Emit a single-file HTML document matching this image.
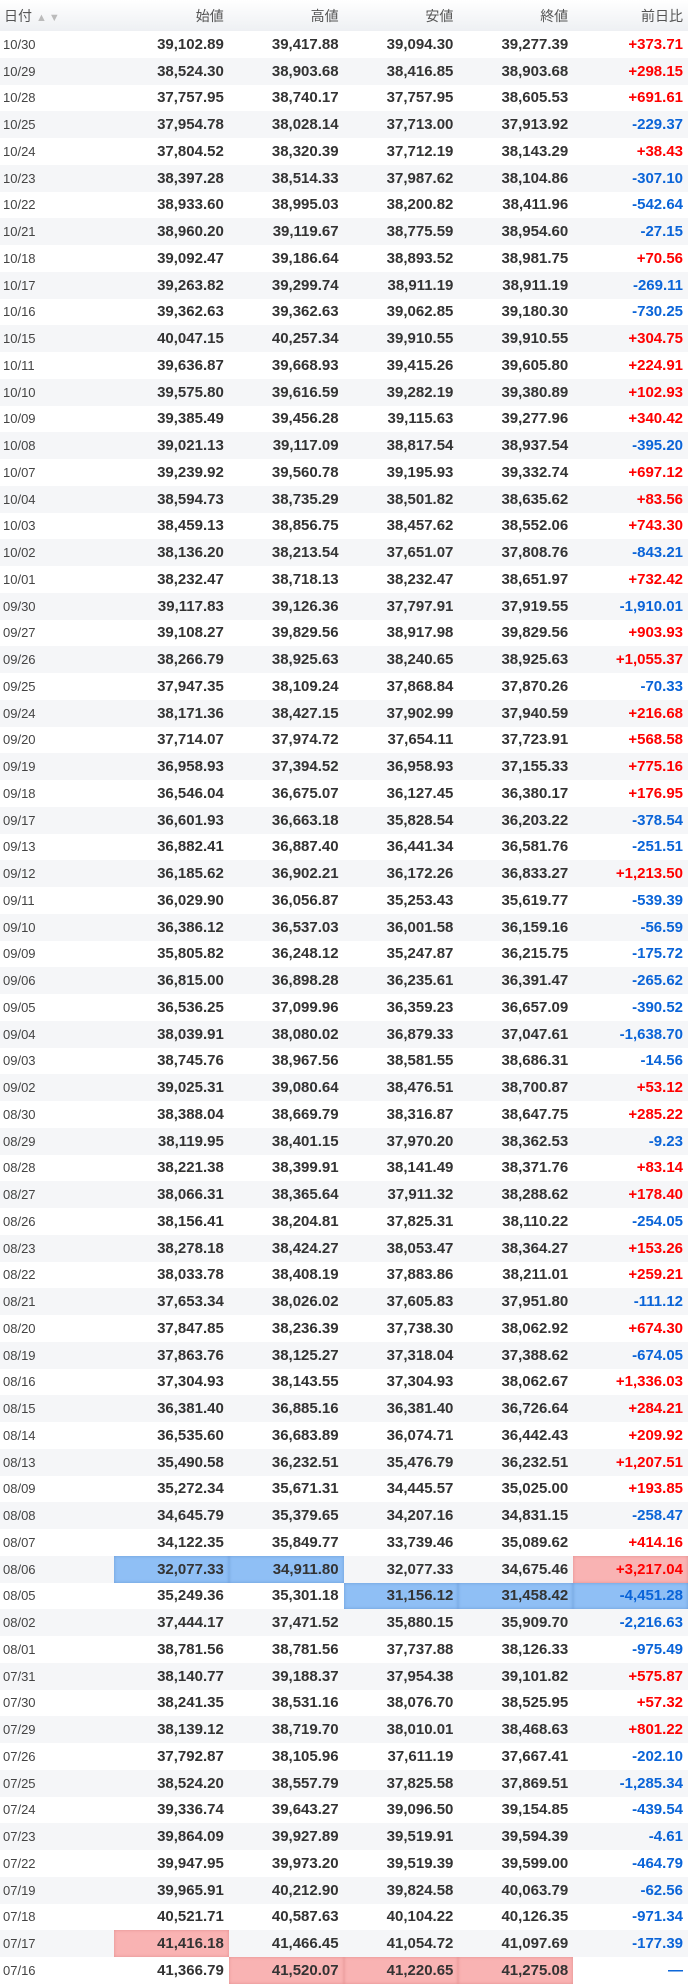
<!DOCTYPE html>
<html><head><meta charset="utf-8"><style>
html,body{margin:0;padding:0;background:#fff;}
table{border-collapse:collapse;table-layout:fixed;width:688px;font-family:"Liberation Sans","Noto Sans CJK JP",sans-serif;}
th{height:31px;padding:0 5px 0 0;text-align:right;font-weight:normal;font-size:14px;color:#555;background:linear-gradient(#fff,#eef0f3);}
th:first-child{text-align:left;padding-left:4px;}
th .ar{color:#bbb;font-size:11px;letter-spacing:2px;margin-left:4px;}
td{height:26.75px;padding:0 5px 0 0;text-align:right;font-size:15px;font-weight:bold;color:#333;white-space:nowrap;}
td:first-child{text-align:left;padding-left:3px;font-size:13px;font-weight:normal;color:#444;}
tr:nth-child(even) td{background:#f5f6f8;}
tr:nth-child(odd) td{background:#fff;}
tr td.p{color:#f00;}
tr td.m{color:#0a64d8;}
tr td.b{background:#8fbff5;box-shadow:inset 0 0 3px rgba(40,90,160,.35);}
tr td.r{background:#f9b3b3;box-shadow:inset 0 0 3px rgba(180,60,60,.3);}
</style></head><body>
<table>
<colgroup><col style="width:114px"><col><col><col><col><col></colgroup>
<thead><tr><th>日付<span class="ar">▲▼</span></th><th>始値</th><th>高値</th><th>安値</th><th>終値</th><th>前日比</th></tr></thead>
<tbody>
<tr><td>10/30</td><td>39,102.89</td><td>39,417.88</td><td>39,094.30</td><td>39,277.39</td><td class="p">+373.71</td></tr>
<tr><td>10/29</td><td>38,524.30</td><td>38,903.68</td><td>38,416.85</td><td>38,903.68</td><td class="p">+298.15</td></tr>
<tr><td>10/28</td><td>37,757.95</td><td>38,740.17</td><td>37,757.95</td><td>38,605.53</td><td class="p">+691.61</td></tr>
<tr><td>10/25</td><td>37,954.78</td><td>38,028.14</td><td>37,713.00</td><td>37,913.92</td><td class="m">-229.37</td></tr>
<tr><td>10/24</td><td>37,804.52</td><td>38,320.39</td><td>37,712.19</td><td>38,143.29</td><td class="p">+38.43</td></tr>
<tr><td>10/23</td><td>38,397.28</td><td>38,514.33</td><td>37,987.62</td><td>38,104.86</td><td class="m">-307.10</td></tr>
<tr><td>10/22</td><td>38,933.60</td><td>38,995.03</td><td>38,200.82</td><td>38,411.96</td><td class="m">-542.64</td></tr>
<tr><td>10/21</td><td>38,960.20</td><td>39,119.67</td><td>38,775.59</td><td>38,954.60</td><td class="m">-27.15</td></tr>
<tr><td>10/18</td><td>39,092.47</td><td>39,186.64</td><td>38,893.52</td><td>38,981.75</td><td class="p">+70.56</td></tr>
<tr><td>10/17</td><td>39,263.82</td><td>39,299.74</td><td>38,911.19</td><td>38,911.19</td><td class="m">-269.11</td></tr>
<tr><td>10/16</td><td>39,362.63</td><td>39,362.63</td><td>39,062.85</td><td>39,180.30</td><td class="m">-730.25</td></tr>
<tr><td>10/15</td><td>40,047.15</td><td>40,257.34</td><td>39,910.55</td><td>39,910.55</td><td class="p">+304.75</td></tr>
<tr><td>10/11</td><td>39,636.87</td><td>39,668.93</td><td>39,415.26</td><td>39,605.80</td><td class="p">+224.91</td></tr>
<tr><td>10/10</td><td>39,575.80</td><td>39,616.59</td><td>39,282.19</td><td>39,380.89</td><td class="p">+102.93</td></tr>
<tr><td>10/09</td><td>39,385.49</td><td>39,456.28</td><td>39,115.63</td><td>39,277.96</td><td class="p">+340.42</td></tr>
<tr><td>10/08</td><td>39,021.13</td><td>39,117.09</td><td>38,817.54</td><td>38,937.54</td><td class="m">-395.20</td></tr>
<tr><td>10/07</td><td>39,239.92</td><td>39,560.78</td><td>39,195.93</td><td>39,332.74</td><td class="p">+697.12</td></tr>
<tr><td>10/04</td><td>38,594.73</td><td>38,735.29</td><td>38,501.82</td><td>38,635.62</td><td class="p">+83.56</td></tr>
<tr><td>10/03</td><td>38,459.13</td><td>38,856.75</td><td>38,457.62</td><td>38,552.06</td><td class="p">+743.30</td></tr>
<tr><td>10/02</td><td>38,136.20</td><td>38,213.54</td><td>37,651.07</td><td>37,808.76</td><td class="m">-843.21</td></tr>
<tr><td>10/01</td><td>38,232.47</td><td>38,718.13</td><td>38,232.47</td><td>38,651.97</td><td class="p">+732.42</td></tr>
<tr><td>09/30</td><td>39,117.83</td><td>39,126.36</td><td>37,797.91</td><td>37,919.55</td><td class="m">-1,910.01</td></tr>
<tr><td>09/27</td><td>39,108.27</td><td>39,829.56</td><td>38,917.98</td><td>39,829.56</td><td class="p">+903.93</td></tr>
<tr><td>09/26</td><td>38,266.79</td><td>38,925.63</td><td>38,240.65</td><td>38,925.63</td><td class="p">+1,055.37</td></tr>
<tr><td>09/25</td><td>37,947.35</td><td>38,109.24</td><td>37,868.84</td><td>37,870.26</td><td class="m">-70.33</td></tr>
<tr><td>09/24</td><td>38,171.36</td><td>38,427.15</td><td>37,902.99</td><td>37,940.59</td><td class="p">+216.68</td></tr>
<tr><td>09/20</td><td>37,714.07</td><td>37,974.72</td><td>37,654.11</td><td>37,723.91</td><td class="p">+568.58</td></tr>
<tr><td>09/19</td><td>36,958.93</td><td>37,394.52</td><td>36,958.93</td><td>37,155.33</td><td class="p">+775.16</td></tr>
<tr><td>09/18</td><td>36,546.04</td><td>36,675.07</td><td>36,127.45</td><td>36,380.17</td><td class="p">+176.95</td></tr>
<tr><td>09/17</td><td>36,601.93</td><td>36,663.18</td><td>35,828.54</td><td>36,203.22</td><td class="m">-378.54</td></tr>
<tr><td>09/13</td><td>36,882.41</td><td>36,887.40</td><td>36,441.34</td><td>36,581.76</td><td class="m">-251.51</td></tr>
<tr><td>09/12</td><td>36,185.62</td><td>36,902.21</td><td>36,172.26</td><td>36,833.27</td><td class="p">+1,213.50</td></tr>
<tr><td>09/11</td><td>36,029.90</td><td>36,056.87</td><td>35,253.43</td><td>35,619.77</td><td class="m">-539.39</td></tr>
<tr><td>09/10</td><td>36,386.12</td><td>36,537.03</td><td>36,001.58</td><td>36,159.16</td><td class="m">-56.59</td></tr>
<tr><td>09/09</td><td>35,805.82</td><td>36,248.12</td><td>35,247.87</td><td>36,215.75</td><td class="m">-175.72</td></tr>
<tr><td>09/06</td><td>36,815.00</td><td>36,898.28</td><td>36,235.61</td><td>36,391.47</td><td class="m">-265.62</td></tr>
<tr><td>09/05</td><td>36,536.25</td><td>37,099.96</td><td>36,359.23</td><td>36,657.09</td><td class="m">-390.52</td></tr>
<tr><td>09/04</td><td>38,039.91</td><td>38,080.02</td><td>36,879.33</td><td>37,047.61</td><td class="m">-1,638.70</td></tr>
<tr><td>09/03</td><td>38,745.76</td><td>38,967.56</td><td>38,581.55</td><td>38,686.31</td><td class="m">-14.56</td></tr>
<tr><td>09/02</td><td>39,025.31</td><td>39,080.64</td><td>38,476.51</td><td>38,700.87</td><td class="p">+53.12</td></tr>
<tr><td>08/30</td><td>38,388.04</td><td>38,669.79</td><td>38,316.87</td><td>38,647.75</td><td class="p">+285.22</td></tr>
<tr><td>08/29</td><td>38,119.95</td><td>38,401.15</td><td>37,970.20</td><td>38,362.53</td><td class="m">-9.23</td></tr>
<tr><td>08/28</td><td>38,221.38</td><td>38,399.91</td><td>38,141.49</td><td>38,371.76</td><td class="p">+83.14</td></tr>
<tr><td>08/27</td><td>38,066.31</td><td>38,365.64</td><td>37,911.32</td><td>38,288.62</td><td class="p">+178.40</td></tr>
<tr><td>08/26</td><td>38,156.41</td><td>38,204.81</td><td>37,825.31</td><td>38,110.22</td><td class="m">-254.05</td></tr>
<tr><td>08/23</td><td>38,278.18</td><td>38,424.27</td><td>38,053.47</td><td>38,364.27</td><td class="p">+153.26</td></tr>
<tr><td>08/22</td><td>38,033.78</td><td>38,408.19</td><td>37,883.86</td><td>38,211.01</td><td class="p">+259.21</td></tr>
<tr><td>08/21</td><td>37,653.34</td><td>38,026.02</td><td>37,605.83</td><td>37,951.80</td><td class="m">-111.12</td></tr>
<tr><td>08/20</td><td>37,847.85</td><td>38,236.39</td><td>37,738.30</td><td>38,062.92</td><td class="p">+674.30</td></tr>
<tr><td>08/19</td><td>37,863.76</td><td>38,125.27</td><td>37,318.04</td><td>37,388.62</td><td class="m">-674.05</td></tr>
<tr><td>08/16</td><td>37,304.93</td><td>38,143.55</td><td>37,304.93</td><td>38,062.67</td><td class="p">+1,336.03</td></tr>
<tr><td>08/15</td><td>36,381.40</td><td>36,885.16</td><td>36,381.40</td><td>36,726.64</td><td class="p">+284.21</td></tr>
<tr><td>08/14</td><td>36,535.60</td><td>36,683.89</td><td>36,074.71</td><td>36,442.43</td><td class="p">+209.92</td></tr>
<tr><td>08/13</td><td>35,490.58</td><td>36,232.51</td><td>35,476.79</td><td>36,232.51</td><td class="p">+1,207.51</td></tr>
<tr><td>08/09</td><td>35,272.34</td><td>35,671.31</td><td>34,445.57</td><td>35,025.00</td><td class="p">+193.85</td></tr>
<tr><td>08/08</td><td>34,645.79</td><td>35,379.65</td><td>34,207.16</td><td>34,831.15</td><td class="m">-258.47</td></tr>
<tr><td>08/07</td><td>34,122.35</td><td>35,849.77</td><td>33,739.46</td><td>35,089.62</td><td class="p">+414.16</td></tr>
<tr><td>08/06</td><td class="b">32,077.33</td><td class="b">34,911.80</td><td>32,077.33</td><td>34,675.46</td><td class="p r">+3,217.04</td></tr>
<tr><td>08/05</td><td>35,249.36</td><td>35,301.18</td><td class="b">31,156.12</td><td class="b">31,458.42</td><td class="m b">-4,451.28</td></tr>
<tr><td>08/02</td><td>37,444.17</td><td>37,471.52</td><td>35,880.15</td><td>35,909.70</td><td class="m">-2,216.63</td></tr>
<tr><td>08/01</td><td>38,781.56</td><td>38,781.56</td><td>37,737.88</td><td>38,126.33</td><td class="m">-975.49</td></tr>
<tr><td>07/31</td><td>38,140.77</td><td>39,188.37</td><td>37,954.38</td><td>39,101.82</td><td class="p">+575.87</td></tr>
<tr><td>07/30</td><td>38,241.35</td><td>38,531.16</td><td>38,076.70</td><td>38,525.95</td><td class="p">+57.32</td></tr>
<tr><td>07/29</td><td>38,139.12</td><td>38,719.70</td><td>38,010.01</td><td>38,468.63</td><td class="p">+801.22</td></tr>
<tr><td>07/26</td><td>37,792.87</td><td>38,105.96</td><td>37,611.19</td><td>37,667.41</td><td class="m">-202.10</td></tr>
<tr><td>07/25</td><td>38,524.20</td><td>38,557.79</td><td>37,825.58</td><td>37,869.51</td><td class="m">-1,285.34</td></tr>
<tr><td>07/24</td><td>39,336.74</td><td>39,643.27</td><td>39,096.50</td><td>39,154.85</td><td class="m">-439.54</td></tr>
<tr><td>07/23</td><td>39,864.09</td><td>39,927.89</td><td>39,519.91</td><td>39,594.39</td><td class="m">-4.61</td></tr>
<tr><td>07/22</td><td>39,947.95</td><td>39,973.20</td><td>39,519.39</td><td>39,599.00</td><td class="m">-464.79</td></tr>
<tr><td>07/19</td><td>39,965.91</td><td>40,212.90</td><td>39,824.58</td><td>40,063.79</td><td class="m">-62.56</td></tr>
<tr><td>07/18</td><td>40,521.71</td><td>40,587.63</td><td>40,104.22</td><td>40,126.35</td><td class="m">-971.34</td></tr>
<tr><td>07/17</td><td class="r">41,416.18</td><td>41,466.45</td><td>41,054.72</td><td>41,097.69</td><td class="m">-177.39</td></tr>
<tr><td>07/16</td><td>41,366.79</td><td class="r">41,520.07</td><td class="r">41,220.65</td><td class="r">41,275.08</td><td class="m">—</td></tr>
</tbody></table>
</body></html>
